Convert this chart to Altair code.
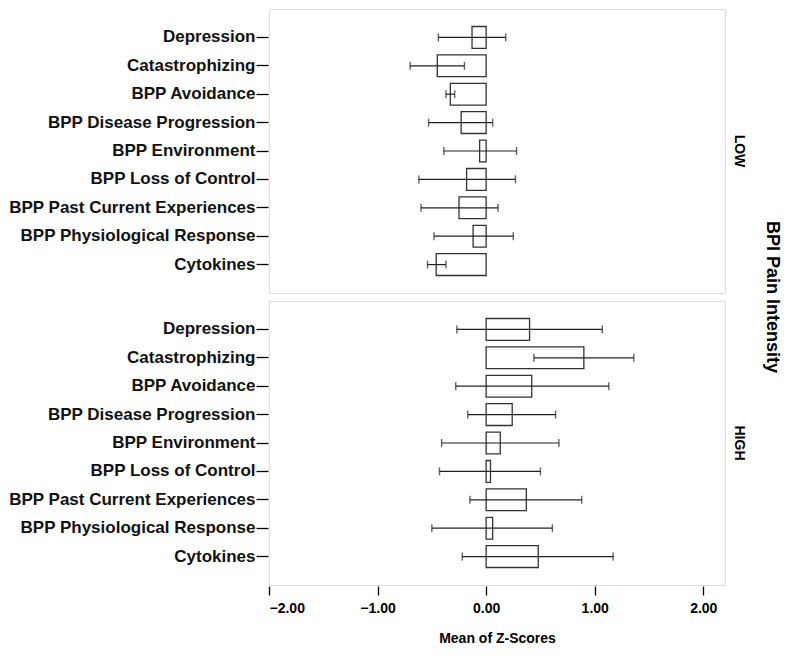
import altair as alt
import pandas as pd

categories = ["Depression", "Catastrophizing", "BPP Avoidance", "BPP Disease Progression",
              "BPP Environment", "BPP Loss of Control", "BPP Past Current Experiences",
              "BPP Physiological Response", "Cytokines"]
groups = ["LOW", "HIGH"]

low_mean = [-0.13, -0.45, -0.33, -0.23, -0.06, -0.18, -0.25, -0.12, -0.46]
low_lo = [-0.44, -0.70, -0.37, -0.53, -0.39, -0.62, -0.60, -0.48, -0.54]
low_hi = [0.18, -0.20, -0.29, 0.06, 0.28, 0.27, 0.11, 0.25, -0.37]

high_mean = [0.40, 0.90, 0.42, 0.24, 0.13, 0.04, 0.37, 0.06, 0.48]
high_lo = [-0.27, 0.44, -0.28, -0.17, -0.41, -0.43, -0.15, -0.50, -0.22]
high_hi = [1.07, 1.36, 1.13, 0.64, 0.67, 0.50, 0.88, 0.61, 1.17]

rows = []
for g, m, lo, hi in [("LOW", low_mean, low_lo, low_hi), ("HIGH", high_mean, high_lo, high_hi)]:
    for c, mv, l, h in zip(categories, m, lo, hi):
        rows.append({"cat": c, "group": g, "mean": mv, "lo": l, "hi": h, "zero": 0.0})
df = pd.DataFrame(rows)

xscale = alt.Scale(domain=[-2, 2.2], nice=False, zero=False)
yscale = alt.Scale(domain=categories, paddingInner=0.233, paddingOuter=0.617)

xenc = alt.X("mean:Q", scale=xscale,
             axis=alt.Axis(values=[-2, -1, 0, 1, 2], format=".2f", title="Mean of Z-Scores",
                           grid=False, domain=False, tickSize=9, tickColor="black", tickWidth=1.3,
                           labelFontSize=14, labelFontWeight="bold", labelColor="black",
                           titleFontSize=14, titleFontWeight="bold", titleColor="black",
                           titlePadding=16, labelPadding=6))
yenc = alt.Y("cat:N", scale=yscale, sort=categories,
             axis=alt.Axis(title=None, grid=False, domain=False, tickSize=12, tickColor="black",
                           tickWidth=1.3,
                           labelFontSize=17, labelFontWeight="bold", labelColor="#111111",
                           labelPadding=1, labelLimit=400))

bars = alt.Chart().mark_bar(fill="white", stroke="#333333", strokeWidth=1.3).encode(
    x=xenc, x2="zero:Q", y=yenc)
rule = alt.Chart().mark_rule(color="#222222", strokeWidth=1.2).encode(
    x=alt.X("lo:Q", scale=xscale), x2="hi:Q", y=alt.Y("cat:N", scale=yscale, sort=categories))
cap_lo = alt.Chart().mark_tick(color="#222222", size=8, thickness=1.4, orient="vertical").encode(
    x=alt.X("lo:Q", scale=xscale), y=alt.Y("cat:N", scale=yscale, sort=categories))
cap_hi = alt.Chart().mark_tick(color="#222222", size=8, thickness=1.4, orient="vertical").encode(
    x=alt.X("hi:Q", scale=xscale), y=alt.Y("cat:N", scale=yscale, sort=categories))

layered = alt.layer(bars, rule, cap_lo, cap_hi).properties(width=456, height=284)

chart = layered.facet(
    data=df,
    row=alt.Row("group:N", sort=groups,
                header=alt.Header(title="BPI Pain Intensity", labelOrient="right", labelAngle=90,
                                  titleOrient="right", titleAngle=90,
                                  labelFontSize=14, labelFontWeight="bold", labelColor="black",
                                  titleFontSize=18, titleFontWeight="bold", titleColor="black",
                                  labelPadding=6, titlePadding=7, labelFont="Liberation Sans",
                                  titleFont="Liberation Sans"))
).properties(spacing=6, padding={"left": 0, "top": 0, "right": 5, "bottom": 0}
).configure_view(fill="#EBEBEB", stroke="black", strokeWidth=1.2
).configure(font="Liberation Sans", background="white")

chart.save("out.html", embed_options={"renderer": "svg", "actions": False})
